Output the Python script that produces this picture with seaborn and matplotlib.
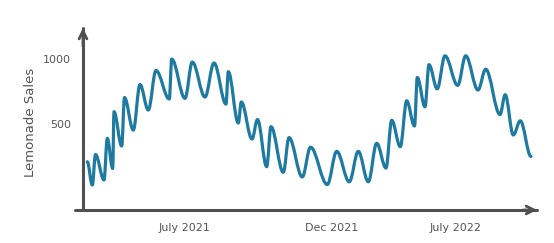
import matplotlib
matplotlib.use("Agg")
import matplotlib.pyplot as plt
import seaborn as sns
import pandas as pd
import numpy as np
from matplotlib.patheffects import AbstractPathEffect
from matplotlib.path import Path
from matplotlib.transforms import IdentityTransform

time_idx = [4.3, 9.3, 12.5, 21, 24.3, 29.7, 31, 38.7, 41.5, 50.3, 57, 65.3, 73, 86.3, 88.7,
            102, 109.3, 122, 131, 143, 145.3, 155.3, 158.3, 169, 174.5, 183.7, 188, 200.3,
            206, 219.3, 227.5, 244.3, 253.7, 266.3, 275.3, 285.3, 293.7, 303, 308.7, 317.3,
            323.7, 331.5, 334.3, 342, 346, 354.2, 362, 374.7, 382.7, 395, 402.7, 417, 422.2,
            430.3, 437.3, 448]
sales = [212, 33, 268, 72, 392, 160, 597, 333, 706, 456, 806, 610, 914, 695, 1002,
         700, 979, 710, 972, 656, 905, 510, 672, 387, 537, 174, 482, 131,
         398, 95, 324, 37, 292, 58, 292, 58, 354, 164, 531, 328,
         681, 487, 860, 635, 959, 773, 1027, 800, 1027, 764, 924, 575, 728,
         418, 527, 253]

tick_pos = [101, 249, 373]
tick_labels = ["July 2021", "Dec 2021", "July 2022"]
ytick_vals = [500, 1000]

df = pd.DataFrame({"t": time_idx, "sales": sales})


class SmoothLine(AbstractPathEffect):
    """Render a polyline through peaks/troughs as smooth curves (horizontal tangents)."""

    def draw_path(self, renderer, gc, tpath, affine, rgbFace=None):
        v = affine.transform(tpath.vertices)
        verts = [v[0]]
        codes = [Path.MOVETO]
        for (x0, y0), (x1, y1) in zip(v[:-1], v[1:]):
            d = (x1 - x0) * 0.36
            verts += [(x0 + d, y0), (x1 - d, y1), (x1, y1)]
            codes += [Path.CURVE4] * 3
        renderer.draw_path(gc, Path(np.array(verts), codes), IdentityTransform(), rgbFace)


sns.set_style("white")
plt.rcParams["font.family"] = ["DejaVu Sans"]

axis_col = "#505050"
text_col = "#555555"
fig = plt.figure(figsize=(5.54, 2.43), dpi=100)
ax = fig.add_axes([75 / 554, 1 - 210 / 243, (537 - 75) / 554, (210 - 28) / 243])

sns.lineplot(data=df, x="t", y="sales", ax=ax, color="#1e7aa0", linewidth=2.3,
             solid_joinstyle="round", solid_capstyle="round")
ax.lines[0].set_path_effects([SmoothLine()])

ax.set_xlim(-8, 454)
ax.set_ylim(-159, 1241)

for s in ["top", "right"]:
    ax.spines[s].set_visible(False)
ax.spines["left"].set_position(("data", 0))
for s in ["left", "bottom"]:
    ax.spines[s].set_color(axis_col)
    ax.spines[s].set_linewidth(2.2)
    ax.spines[s].set_capstyle("round")

ax.set_xticks(tick_pos)
ax.set_xticklabels(tick_labels)
ax.set_yticks(ytick_vals)
ax.set_yticklabels([str(v) for v in ytick_vals])
ax.tick_params(axis="both", direction="inout", length=11, width=1.5, color=axis_col,
               labelcolor=text_col, labelsize=8)
ax.tick_params(axis="y", pad=3)
ax.tick_params(axis="x", pad=4)
ax.set_xlabel("")
ax.set_ylabel("Lemonade Sales", color=text_col, fontsize=9.5)
ax.yaxis.set_label_coords(-0.082, 0.48)

# arrow heads
ax.annotate("", xy=(1.0, 0), xytext=(0.97, 0), xycoords="axes fraction",
            arrowprops=dict(arrowstyle="->", color=axis_col, lw=2.0, mutation_scale=14,
                            shrinkA=0, shrinkB=0))
ax.annotate("", xy=(0, 1241), xytext=(0, 1100), xycoords="data",
            arrowprops=dict(arrowstyle="->", color=axis_col, lw=2.0, mutation_scale=14,
                            shrinkA=0, shrinkB=0), annotation_clip=False)

fig.savefig("out.png", dpi=100)
